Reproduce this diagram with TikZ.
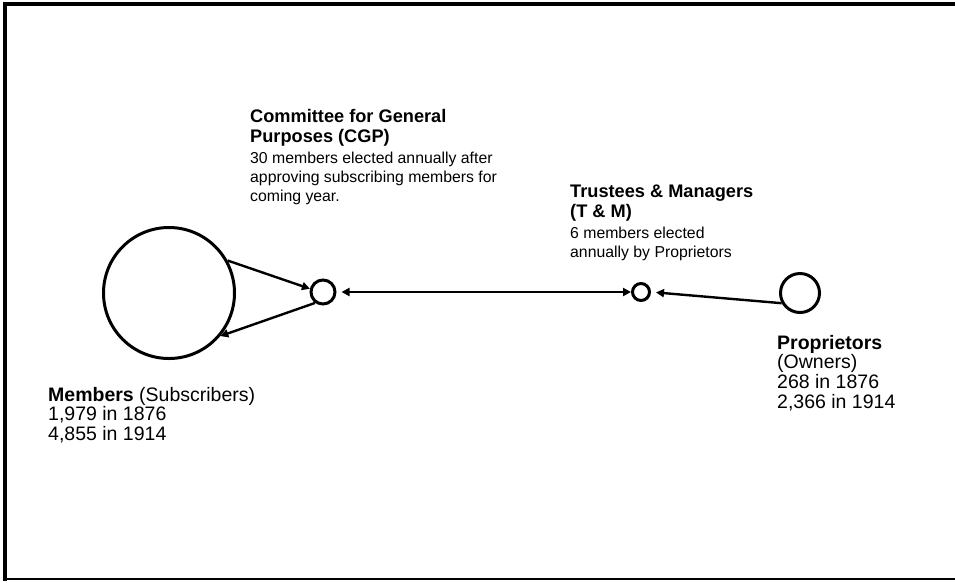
\documentclass[tikz,border=0pt]{standalone}
\usepackage{fontspec}
\setmainfont{Liberation Sans}
\usetikzlibrary{arrows.meta}
\newcommand{\txtblock}[1]{\begin{tabular}[t]{@{}l@{}}#1\end{tabular}}
% headings of the committees and their descriptions
\newcommand{\headfont}{\fontsize{18.2}{19.5}\selectfont\bfseries}
\newcommand{\descfont}{\fontsize{15.8}{19.5}\selectfont}
\begin{document}
\begin{tikzpicture}[x=1pt,y=-1pt,
  hub/.style={circle,draw,line width=3pt,inner sep=0pt},
  link/.style={line width=2.4pt,-{Triangle[length=8pt,width=8pt]}},
  twoway/.style={line width=2.4pt,{Triangle[length=8pt,width=8pt]}-{Triangle[length=8pt,width=8pt]}},
  caption/.style={anchor=base west,inner sep=0pt,font=\fontsize{19.5}{19.5}\selectfont}]
\useasboundingbox (0,0) rectangle (955,582);
% frame: heavy top and left edges, thin bottom edge
\draw[line width=4pt] (955,4) -- (5,4) -- (5,581);
\draw[line width=2pt] (3,579) -- (955,579);

% bodies of the club
\node[hub,minimum size=131pt] (mem) at (169,293) {};
\node[hub,minimum size=24pt] (cgp) at (323,292) {};
\node[hub,minimum size=17pt] (tm) at (641,292) {};
\node[hub,minimum size=39pt] (prop) at (800,293) {};

% relations
\draw[link] (mem.29) -- (cgp.166);
\draw[link] (cgp.234) -- (mem.-40);
\draw[twoway,shorten <=5pt] (cgp.east) -- (tm.west);
\draw[link,shorten >=5pt] (prop.209) -- (tm.east);

% descriptions
\node[caption] (cgptxt) at (250,122) {\txtblock{\headfont Committee for General\\[0.5pt]
  \headfont Purposes (CGP)\\[1.5pt]
  \descfont 30 members elected annually after\\[-0.5pt]
  \descfont approving subscribing members for\\[-0.5pt]
  \descfont coming year.}};
\node[caption] (tmtxt) at (570,197) {\txtblock{\headfont Trustees \& Managers\\[0.5pt]
  \headfont (T \& M)\\[1.5pt]
  \descfont 6 members elected\\[-0.5pt]
  \descfont annually by Proprietors}};
\node[caption] (memtxt) at (48,401) {\txtblock{\textbf{Members} (Subscribers)\\
  1,979 in 1876\\
  4,855 in 1914}};
\node[caption] (proptxt) at (777,349) {\txtblock{\textbf{Proprietors}\\
  (Owners)\\
  268 in 1876\\
  2,366 in 1914}};
\end{tikzpicture}
\end{document}
